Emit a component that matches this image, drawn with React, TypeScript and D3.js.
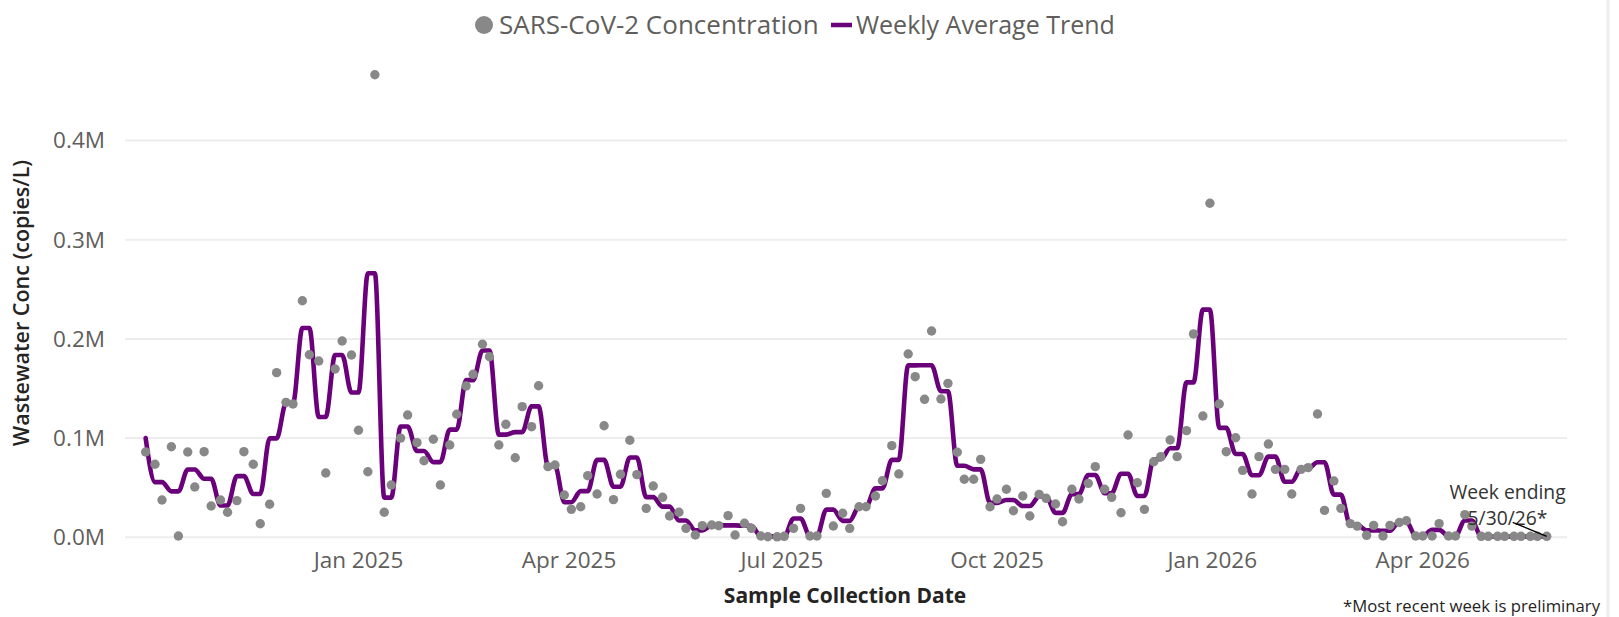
import React from 'react';
import * as d3 from 'd3';

// ---------- DATA ----------
// Samples are taken Sundays and Wednesdays; first week (Sun) starts here.
const WEEK0_SUNDAY = '2024-09-29';
// First sample is the Wednesday of week 0, then Sun/Wed pairs (thousands of copies/L)
const sampleValuesK: number[] = [
  86,
  73.6, 37.6,
  91.3, 1.3,
  86, 50.7,
  86.3, 31.6,
  37.6, 25.2,
  37, 86.3,
  73.6, 13.7,
  33.3, 166,
  136, 134.4,
  238.5, 184,
  177.7, 64.8,
  169.7, 197.9,
  183.8, 107.9,
  66.1, 466.3,
  25.2, 52.7,
  100, 123.3,
  95.4, 77.2,
  98.8, 52.7,
  93, 124,
  152.5, 164.3,
  194.6, 182,
  93, 113.9,
  80.2, 131.7,
  111.5, 152.8,
  71.2, 72.9,
  42.6, 28.2,
  30.8, 62.1,
  43.6, 112.5,
  38, 63.5,
  97.8, 63.2,
  29.2, 51.7,
  40.3, 21.5,
  25.2, 9,
  2.3, 11.7,
  12.4, 11.7,
  21.8, 2.3,
  14.1, 9,
  1.3, 0.6,
  0.5, 1,
  9, 29.2,
  1.3, 1.3,
  44.3, 11.4,
  24.2, 9,
  30.8, 30.8,
  41.6, 57,
  92.4, 63.8,
  184.8, 161.9,
  139.1, 208,
  139.4, 155.2,
  85.7, 58.5,
  58.5, 78.6,
  30.8, 38.6,
  48.4, 26.8,
  41.6, 21.5,
  43.3, 39.3,
  33.6, 15.7,
  48.4, 38.6,
  54.4, 71.2,
  48.4, 40.3,
  24.8, 103.1,
  55, 28.2,
  76.2, 81.3,
  98.1, 81.3,
  107.5, 205,
  122.3, 336.7,
  134.4, 86.3,
  100.4, 67.5,
  43.6, 81.3,
  94, 68.5,
  68.5, 43.6,
  68.5, 70.2,
  124.3, 27.1,
  56.8, 29.2,
  13.8, 11.3,
  2, 12,
  1.3, 12,
  14.9, 16.7,
  1.3, 1.3,
  1.3, 13.8,
  1.3, 1.3,
  22.8, 11.3,
  1, 1,
  1, 1,
  1, 1,
  1, 1,
  1,
];

// Weekly average trend, one value per week starting WEEK0_SUNDAY (thousands)
const weeklyTrendK: number[] = [
  100, 55.6, 46.3, 68.4, 59, 32, 61.7, 43.7, 99.7, 135.2,
  211, 121.3, 183.8, 145.9, 266.2, 40, 111.7, 87, 75.8, 108.5,
  158.4, 188.3, 103.5, 106, 132, 72, 35.4, 46.5, 78, 51,
  80.5, 40.5, 30.9, 17, 7, 12, 12, 11.6, 1, 0.8,
  19, 1.3, 27.9, 16.6, 30.8, 49.3, 78.1, 173.3, 173.5, 147.3,
  72.1, 68.5, 34.7, 37.6, 31.5, 41.3, 24.6, 43.5, 62.8, 44.4,
  64, 41.6, 78.7, 89.7, 156.2, 229.5, 110.3, 84, 62.5, 81.3,
  56, 69.3, 75.7, 43, 12.5, 7, 6.6, 15.8, 1.3, 7.5,
  1.3, 17, 0.8, 0.8, 0.8, 0.8, 0.8,
];

const yTicks: number[] = [0, 100000, 200000, 300000, 400000];
const xTickDates: string[] = ['2025-01-01', '2025-04-01', '2025-07-01', '2025-10-01', '2026-01-01', '2026-04-01'];
const legendLabels: string[] = ['SARS-CoV-2 Concentration', 'Weekly Average Trend'];
const yTitle = 'Wastewater Conc (copies/L)';
const xTitle = 'Sample Collection Date';
const annotationLines: string[] = ['Week ending', '5/30/26*'];
const footnote = '*Most recent week is preliminary';

// ---------- STYLE ----------
const W = 1619;
const H = 617;
const FONT = "'Segoe UI', 'Open Sans', 'Noto Sans', sans-serif";
const PURPLE = '#6B007B';
const GRAY_PT = '#888888';
const TICK_COLOR = '#605E5C';
const TITLE_COLOR = '#252423';
const GRID = '#EDEDED';

const parse = d3.utcParse('%Y-%m-%d');

export default function App() {
  const week0 = parse(WEEK0_SUNDAY) as Date;
  const weekOf = (k: number) => Math.floor((k + 1) / 2);
  const sampleDate = (k: number) =>
    d3.utcDay.offset(week0, 7 * weekOf(k) + ((k + 1) % 2 === 1 ? 3 : 0));

  const samples = sampleValuesK.map((v, k) => ({ date: sampleDate(k), value: v * 1000, week: weekOf(k) }));
  const trend = samples.map((s) => ({ date: s.date, value: weeklyTrendK[s.week] * 1000 }));

  const pxPerDay = 2.339;
  const xRef0 = parse('2025-01-01') as Date;
  const xRef1 = parse('2026-01-01') as Date;
  const x = d3
    .scaleUtc()
    .domain([xRef0, xRef1])
    .range([358.5, 358.5 + 365 * pxPerDay]);
  const y = d3.scaleLinear().domain([0, 400000]).range([537.3, 140.5]);

  const plotLeft = 125;
  const plotRight = 1567;

  const line = d3
    .line<{ date: Date; value: number }>()
    .x((d) => x(d.date))
    .y((d) => y(d.value))
    .curve(d3.curveMonotoneX);

  const yFmt = (v: number) => d3.format('.1f')(v / 1e6) + 'M';
  const xFmt = d3.utcFormat('%b %Y');

  const last = samples[samples.length - 1];
  const lastX = x(last.date);
  const lastY = y(last.value);

  return (
    <svg
      width={W}
      height={H}
      style={{ position: 'absolute', left: 0, top: 0, display: 'block', background: '#fff' }}
      fontFamily={FONT}
    >
      <rect x={0} y={0} width={W} height={H} fill="#fff" />
      {/* right border */}
      <rect x={1606.5} y={0} width={3} height={H} fill="#EDEDED" />

      {/* gridlines */}
      {yTicks.map((t) => (
        <line key={t} x1={plotLeft} x2={plotRight} y1={y(t)} y2={y(t)} stroke={GRID} strokeWidth={2} />
      ))}

      {/* y tick labels */}
      {yTicks.map((t) => (
        <text key={'yt' + t} x={105} y={y(t)} dy="0.35em" textAnchor="end" fontSize={22.5} fill={TICK_COLOR}>
          {yFmt(t)}
        </text>
      ))}

      {/* x tick labels */}
      {xTickDates.map((s) => {
        const d = parse(s) as Date;
        return (
          <text key={s} x={x(d)} y={568} textAnchor="middle" fontSize={22.5} fill={TICK_COLOR}>
            {xFmt(d)}
          </text>
        );
      })}

      {/* trend line */}
      <path d={line(trend) || ''} fill="none" stroke={PURPLE} strokeWidth={4.6} strokeLinejoin="round" strokeLinecap="round" />

      {/* points */}
      {samples.map((s, i) => (
        <circle key={i} cx={x(s.date)} cy={y(s.value)} r={4.7} fill={GRAY_PT} />
      ))}

      {/* annotation */}
      <text x={1507.5} y={498.5} textAnchor="middle" fontSize={19.3} fill="#333">
        {annotationLines[0]}
      </text>
      <text x={1507.5} y={524.5} textAnchor="middle" fontSize={19.3} fill="#333">
        {annotationLines[1]}
      </text>
      <line x1={lastX - 34} y1={lastY - 14} x2={lastX} y2={lastY} stroke="#000" strokeWidth={1.3} />

      {/* legend */}
      <circle cx={484} cy={25} r={9} fill={GRAY_PT} />
      <text x={499} y={33.5} fontSize={26} fill={TICK_COLOR}>
        {legendLabels[0]}
      </text>
      <line x1={831} x2={852} y1={25} y2={25} stroke={PURPLE} strokeWidth={4.5} />
      <text x={856} y={33.5} fontSize={25} fill={TICK_COLOR}>
        {legendLabels[1]}
      </text>

      {/* axis titles */}
      <text
        transform="translate(28.5,303) rotate(-90)"
        textAnchor="middle"
        fontSize={21.5}
        fontWeight={600}
        fill={TITLE_COLOR}
      >
        {yTitle}
      </text>
      <text x={845} y={603} textAnchor="middle" fontSize={21} fontWeight={700} fill={TITLE_COLOR}>
        {xTitle}
      </text>

      {/* footnote */}
      <text x={1600} y={612} textAnchor="end" fontSize={16.7} fill="#252423">
        {footnote}
      </text>
    </svg>
  );
}
